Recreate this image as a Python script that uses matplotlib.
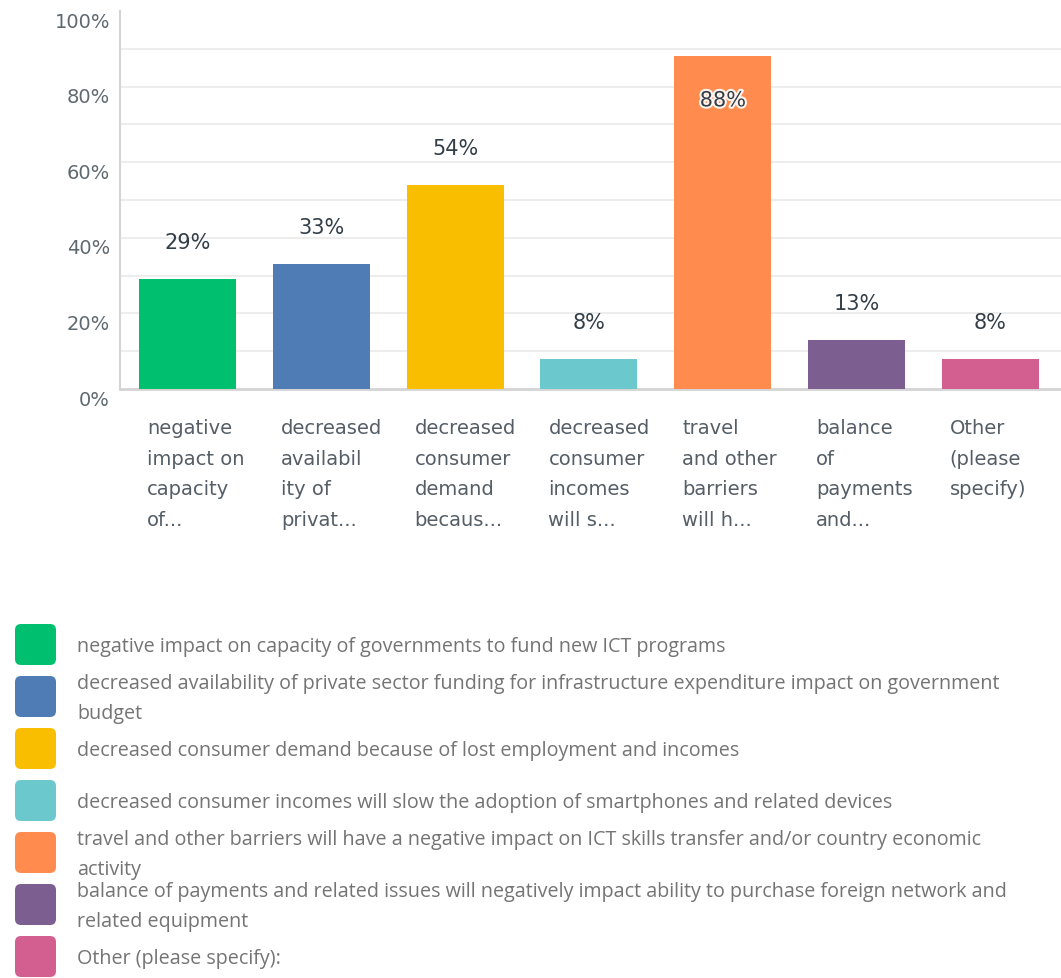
import matplotlib.pyplot as plt
import matplotlib.patheffects as pe
from matplotlib.patches import FancyBboxPatch
from matplotlib.transforms import offset_copy

# survey results, share of respondents (%)
short_labels = [
    'negative\nimpact on\ncapacity\nof...',
    'decreased\navailabil\nity of\nprivat...',
    'decreased\nconsumer\ndemand\nbecaus...',
    'decreased\nconsumer\nincomes\nwill s...',
    'travel\nand other\nbarriers\nwill h...',
    'balance\nof\npayments\nand...',
    'Other\n(please\nspecify)',
]
full_labels = [
    'negative impact on capacity of governments to fund new ICT programs',
    'decreased availability of private sector funding for infrastructure expenditure impact on government\nbudget',
    'decreased consumer demand because of lost employment and incomes',
    'decreased consumer incomes will slow the adoption of smartphones and related devices',
    'travel and other barriers will have a negative impact on ICT skills transfer and/or country economic\nactivity',
    'balance of payments and related issues will negatively impact ability to purchase foreign network and\nrelated equipment',
    'Other (please specify):',
]
values = [29, 33, 54, 8, 88, 13, 8]
colors = ['#00bf6f', '#507cb6', '#f9be00', '#6bc8cd', '#ff8b4f', '#7d5e90', '#d25f90']
ytick_vals = [0, 20, 40, 60, 80, 100]

W, H = 1061, 979
fig = plt.figure(figsize=(W / 100, H / 100), dpi=100)
ax = fig.add_axes([120 / W, 1 - 390 / H, (W - 120) / W, (390 - 12) / H])

x = list(range(len(values)))
bar_w = 0.725
ax.bar(x, values, width=bar_w, color=colors, zorder=3)
ax.set_xlim(-0.504, 6.528)
ax.set_ylim(0, 100)

# light horizontal grid every 10%
ax.set_yticks(range(10, 100, 10))
ax.set_yticklabels([])
ax.tick_params(axis='y', length=0)
ax.set_xticks([])
ax.grid(axis='y', color='#ededed', linewidth=1.5, zorder=0)
for side in ['top', 'right']:
    ax.spines[side].set_visible(False)
ax.spines['left'].set_color('#d4d4d4')
ax.spines['left'].set_linewidth(1.5)
ax.spines['bottom'].set_color('#d4d4d4')
ax.spines['bottom'].set_linewidth(2)

# percentage labels sit a little below their grid line
ytr = offset_copy(ax.get_yaxis_transform(), fig=fig, x=-10, y=-10, units='dots')
for v in ytick_vals:
    ax.text(0, v, f'{v}%', transform=ytr, ha='right', va='center',
            fontsize=14, color='#5f6970', family='DejaVu Sans')

# value labels above bars, inside the tall one
for xi, v in zip(x, values):
    if v > 80:
        tr = offset_copy(ax.transData, fig=fig, y=-44, units='dots')
        ax.text(xi, v, f'{v}%', transform=tr, ha='center', va='center',
                fontsize=15, color='#333e48', zorder=5,
                path_effects=[pe.withStroke(linewidth=3, foreground='#fff4ee')])
    else:
        tr = offset_copy(ax.transData, fig=fig, y=37, units='dots')
        ax.text(xi, v, f'{v}%', transform=tr, ha='center', va='center',
                fontsize=15, color='#333e48', zorder=5)

# wrapped category names under each bar
ctr = offset_copy(ax.get_xaxis_transform(), fig=fig, x=8, y=-29, units='dots')
for xi, lab in zip(x, short_labels):
    ax.text(xi - bar_w / 2, 0, lab, transform=ctr, ha='left', va='top',
            fontsize=14, color='#555e66', linespacing=1.77, family='DejaVu Sans')

# legend block drawn in pixel space
lax = fig.add_axes([0, 0, 1, 1])
lax.set_xlim(0, W)
lax.set_ylim(H, 0)
lax.axis('off')
lax.patch.set_alpha(0)
for i, (lab, c) in enumerate(zip(full_labels, colors)):
    top = 625 + 52 * i
    lax.add_patch(FancyBboxPatch((17, top + 2), 37, 37,
                                 boxstyle='round,pad=2,rounding_size=6',
                                 facecolor=c, edgecolor='none'))
    lax.text(77, top + 22, lab, ha='left', va='center', fontsize=14.2,
             color='#747474', family='Open Sans', linespacing=1.7)

fig.savefig('out.png', dpi=100)
